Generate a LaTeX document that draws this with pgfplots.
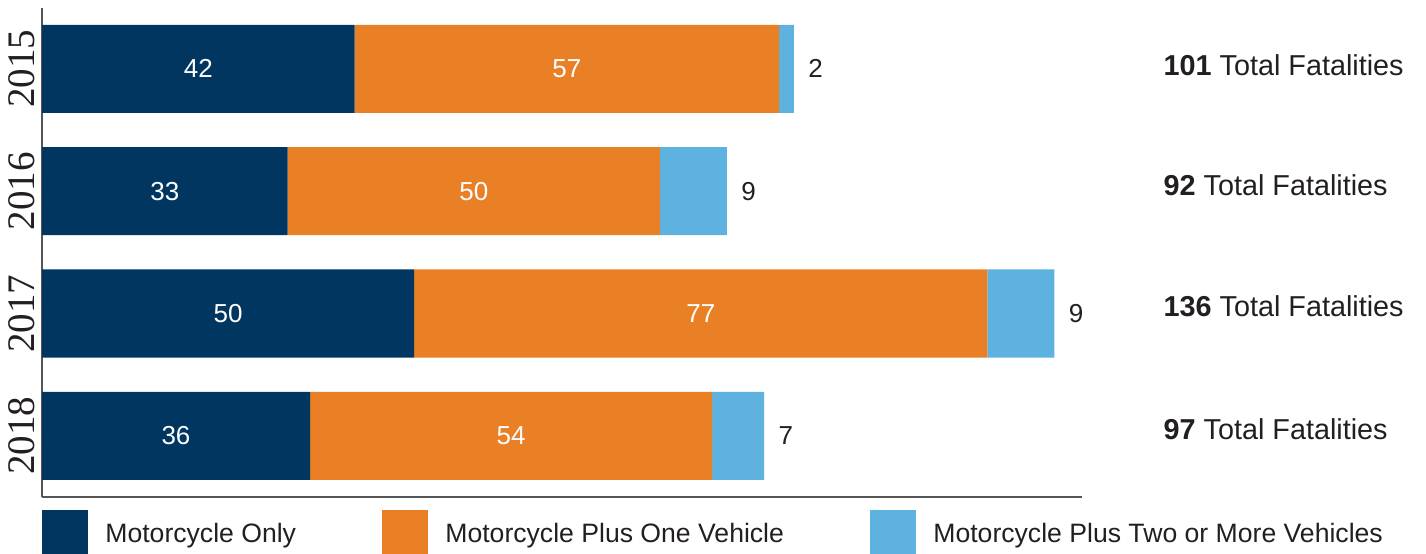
\documentclass[border=0pt]{standalone}
\usepackage{pgfplots}
\pgfplotsset{compat=1.18}
\usepackage{fontspec}
\setmainfont{Liberation Sans}
\newfontfamily\yearfont{Liberation Serif}
\definecolor{dblue}{HTML}{00365F}
\definecolor{morange}{HTML}{E98026}
\definecolor{lblue}{HTML}{5EB2DF}
\definecolor{textdark}{HTML}{231F20}
\definecolor{axisgray}{HTML}{555555}
\tikzset{
  seglab/.style={text=white, font=\fontsize{13}{15}\selectfont},
  endlab/.style={anchor=west, inner sep=0pt, xshift=7pt, text=textdark, font=\fontsize{13}{15}\selectfont},
  totlab/.style={anchor=west, inner sep=0pt, text=textdark, font=\fontsize{14.4}{16}\selectfont},
  leglab/.style={anchor=base west, inner sep=0pt, text=textdark, font=\fontsize{13.3}{16}\selectfont},
}
\begin{document}
\begin{tikzpicture}[x=1pt,y=1pt]
\path[use as bounding box] (0,0) rectangle (713,276.5);
\begin{axis}[
  at={(21pt,28pt)}, anchor=south west,
  scale only axis, width=520pt, height=244.67pt,
  xbar stacked, bar width=0.72,
  xmin=0, xmax=139.7, ymin=-0.5, ymax=3.5,
  axis x line*=bottom, axis y line*=left,
  axis line style={-, draw=axisgray, line width=0.75pt},
  xtick=\empty, ytick={0,1,2,3}, yticklabels={2018,2017,2016,2015},
  major tick length=0pt,
  yticklabel style={rotate=90, anchor=south, inner xsep=0pt, inner ysep=3.5pt,
    font=\yearfont\fontsize{19.5}{20}\selectfont, text=textdark},
  clip=false,
]
\addplot[fill=dblue, draw=none] coordinates {(36,0) (50,1) (33,2) (42,3)};
\addplot[fill=morange, draw=none] coordinates {(54,0) (77,1) (50,2) (57,3)};
\addplot[fill=lblue, draw=none] coordinates {(7,0) (9,1) (9,2) (2,3)};
% label anchor points (segment centres, bar ends, totals column)
\coordinate (a3) at (axis cs:21,3);   \coordinate (b3) at (axis cs:70.5,3);
\coordinate (a2) at (axis cs:16.5,2); \coordinate (b2) at (axis cs:58,2);
\coordinate (a1) at (axis cs:25,1);   \coordinate (b1) at (axis cs:88.5,1);
\coordinate (a0) at (axis cs:18,0);   \coordinate (b0) at (axis cs:63,0);
\coordinate (e3) at (axis cs:101,3);  \coordinate (e2) at (axis cs:92,2);
\coordinate (e1) at (axis cs:136,1);  \coordinate (e0) at (axis cs:97,0);
\coordinate (t3) at (axis cs:150.6,3.03); \coordinate (t2) at (axis cs:150.6,2.05);
\coordinate (t1) at (axis cs:150.6,1.06); \coordinate (t0) at (axis cs:150.6,0.055);
\end{axis}
\node[seglab] at (a3) {42}; \node[seglab] at (b3) {57};
\node[seglab] at (a2) {33}; \node[seglab] at (b2) {50};
\node[seglab] at (a1) {50}; \node[seglab] at (b1) {77};
\node[seglab] at (a0) {36}; \node[seglab] at (b0) {54};
\node[endlab] at (e3) {2}; \node[endlab] at (e2) {9};
\node[endlab] at (e1) {9}; \node[endlab] at (e0) {7};
\node[totlab] at (t3) {\textbf{101} Total Fatalities};
\node[totlab] at (t2) {\textbf{92} Total Fatalities};
\node[totlab] at (t1) {\textbf{136} Total Fatalities};
\node[totlab] at (t0) {\textbf{97} Total Fatalities};
% legend
\fill[dblue] (21,-2) rectangle (44,21.5);
\fill[morange] (191,-2) rectangle (214,21.5);
\fill[lblue] (435,-2) rectangle (458,21.5);
\node[leglab] at (52.5,5.5) {Motorcycle Only};
\node[leglab] at (222.5,5.5) {Motorcycle Plus One Vehicle};
\node[leglab] at (466.5,5.5) {Motorcycle Plus Two or More Vehicles};
\end{tikzpicture}
\end{document}
